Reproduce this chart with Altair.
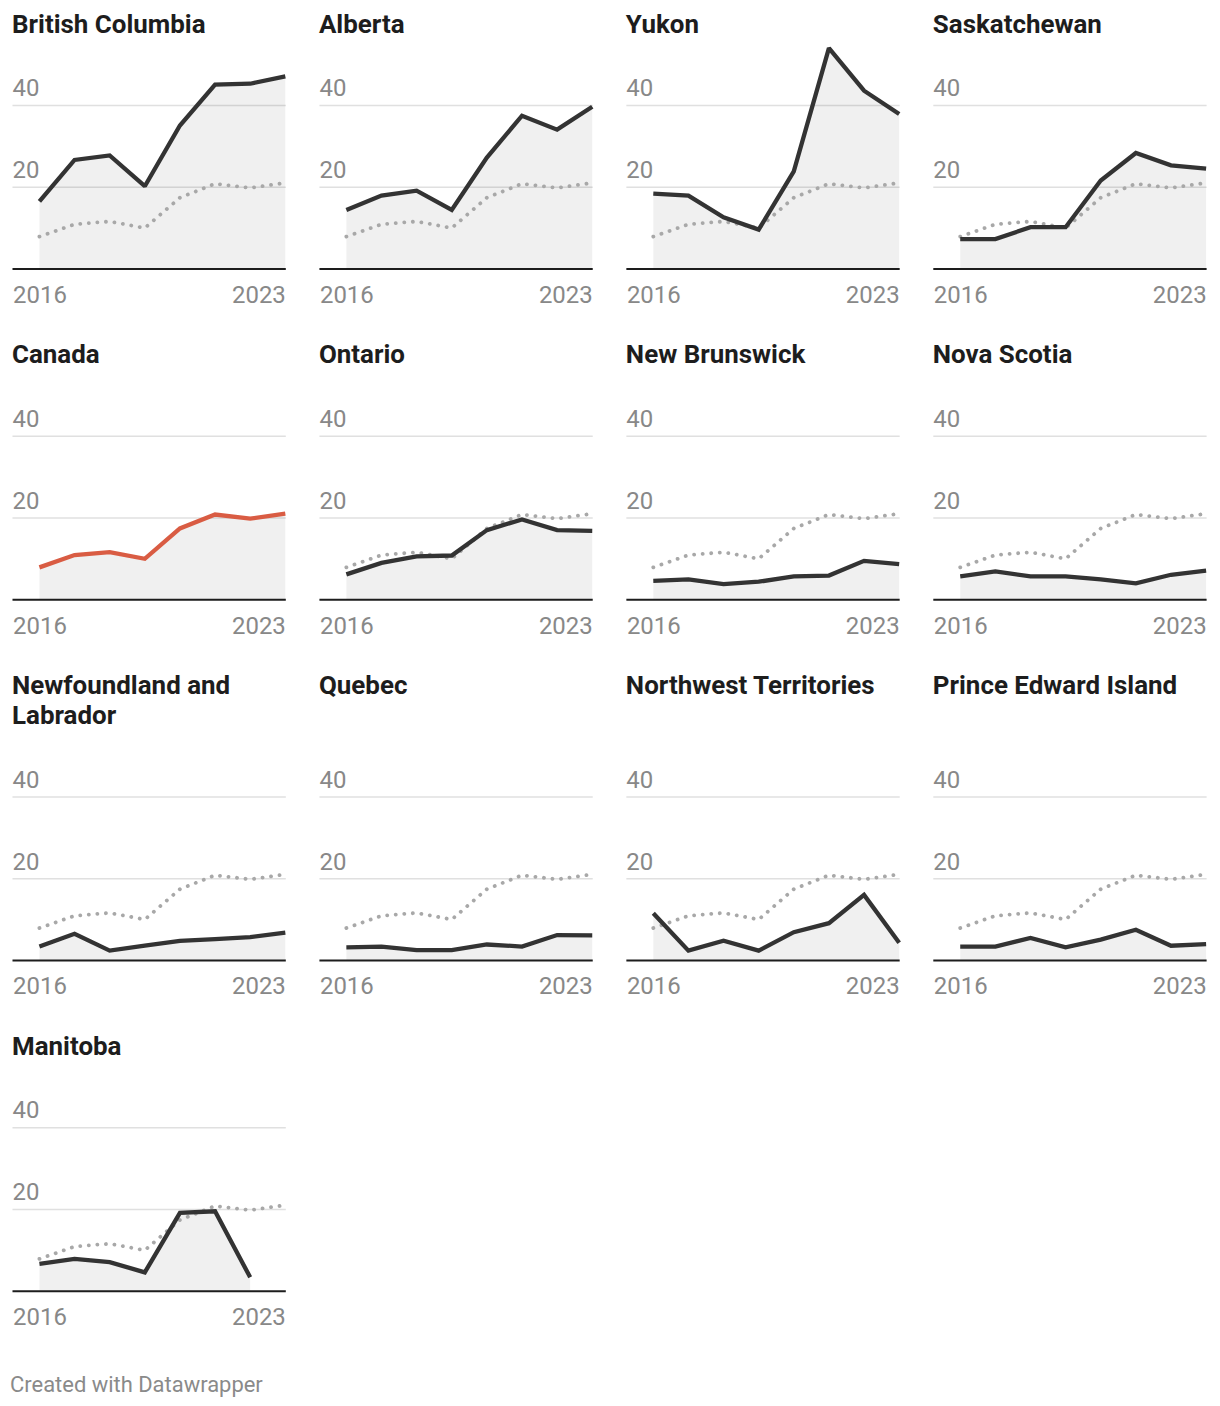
import altair as alt
import pandas as pd

years = [2016, 2017, 2018, 2019, 2020, 2021, 2022, 2023]
canada = [7.8, 10.8, 11.5, 9.9, 17.3, 20.7, 19.7, 20.9]
british_columbia = [16.4, 26.5, 27.6, 20.1, 34.9, 44.9, 45.1, 46.9]
alberta = [14.3, 17.8, 19.0, 14.3, 27.1, 37.3, 33.9, 39.5]
yukon = [18.3, 17.8, 12.5, 9.5, 23.7, 53.8, 43.4, 37.7]
saskatchewan = [7.2, 7.2, 10.1, 10.1, 21.5, 28.2, 25.2, 24.4]
ontario = [6.1, 8.9, 10.5, 10.7, 16.9, 19.5, 16.9, 16.7]
new_brunswick = [4.5, 4.9, 3.7, 4.3, 5.6, 5.8, 9.4, 8.6]
nova_scotia = [5.6, 6.8, 5.6, 5.6, 4.9, 3.9, 6.0, 7.0]
newfoundland_labrador = [3.3, 6.4, 2.3, 3.5, 4.7, 5.1, 5.6, 6.7]
quebec = [3.1, 3.3, 2.4, 2.4, 3.8, 3.3, 6.1, 6.0]
northwest_territories = [11.4, 2.3, 4.7, 2.3, 6.8, 9.0, 15.9, 4.2]
prince_edward_island = [3.3, 3.3, 5.4, 3.1, 5.0, 7.4, 3.5, 3.9]
manitoba = [6.6, 7.8, 7.0, 4.5, 19.0, 19.4, 3.3, None]

x_ticks = [2016, 2023]
y_ticks = [20, 40]

FONT = "Roboto"
W, H = 274, 226

x_scale = alt.Scale(domain=[2015.219, 2023], nice=False, zero=False)
y_scale = alt.Scale(domain=[0, 55], nice=False)

x_axis = alt.Axis(
    values=x_ticks, format="d", title=None, grid=False, ticks=False,
    domain=True, domainColor="#1d1d1d", domainWidth=2,
    labelFont=FONT, labelFontSize=24, labelColor="#888888",
    labelPadding=15, labelFlush=False,
    labelAlign=alt.condition("datum.value == 2023", alt.value("right"), alt.value("center")),
)
y_axis = alt.Axis(
    values=y_ticks, title=None, domain=False, ticks=False, grid=True,
    gridColor="#e0e0e0", gridWidth=1.5,
    labelFont=FONT, labelFontSize=24, labelColor="#888888",
    labelAlign="left", labelBaseline="alphabetic", labelPadding=0, labelOffset=-9,
)


def panel(title_lines, values, line_color="#333333", show_canada=True):
    df = pd.DataFrame({"year": years, "value": values}).dropna()
    cdf = pd.DataFrame({"year": years, "canada": canada})
    xe = alt.X("year:Q", scale=x_scale, axis=x_axis)
    area = alt.Chart(df).mark_area(color="#000000", opacity=0.06).encode(
        x=xe, y=alt.Y("value:Q", scale=y_scale, axis=y_axis)
    )
    layers = [area]
    if show_canada:
        dotted = alt.Chart(cdf).mark_line(
            color="#a8a8a8", strokeWidth=3.8, strokeDash=[0.1, 8.5],
            strokeCap="round", strokeJoin="round",
        ).encode(x=xe, y=alt.Y("canada:Q", scale=y_scale, axis=y_axis))
        layers.append(dotted)
    line = alt.Chart(df).mark_line(
        color=line_color, strokeWidth=4.3, strokeJoin="miter", strokeMiterLimit=1.5
    ).encode(x=xe, y=alt.Y("value:Q", scale=y_scale, axis=y_axis))
    layers.append(line)
    return alt.layer(*layers).properties(
        width=W, height=H,
        title=alt.TitleParams(
            text=title_lines, anchor="start", font=FONT, fontSize=26,
            fontWeight="bold", color="#1d1d1d",
            offset=5.5, lineHeight=30,
        ),
    )


def row(*panels):
    return alt.hconcat(*panels, spacing=33.7, bounds="flush")


row1 = row(
    panel(["British Columbia"], british_columbia),
    panel(["Alberta"], alberta),
    panel(["Yukon"], yukon),
    panel(["Saskatchewan"], saskatchewan),
)
row2 = row(
    panel(["Canada"], canada, line_color="#d95c43", show_canada=False),
    panel(["Ontario"], ontario),
    panel(["New Brunswick"], new_brunswick),
    panel(["Nova Scotia"], nova_scotia),
)
row3 = row(
    panel(["Newfoundland and", "Labrador"], newfoundland_labrador),
    panel(["Quebec", " "], quebec),
    panel(["Northwest Territories", " "], northwest_territories),
    panel(["Prince Edward Island", " "], prince_edward_island),
)
row4 = row(panel(["Manitoba"], manitoba))

chart = alt.vconcat(row1, row2, row3, row4, spacing=34.6).properties(
    padding={"left": 2, "top": 1.5, "right": 2, "bottom": 5},
    title=alt.TitleParams(
        text="Created with Datawrapper", orient="bottom", anchor="start",
        font=FONT, fontSize=22, fontWeight="normal", color="#8a8a8a",
        offset=45, dx=-2,
    ),
).configure_view(stroke=None)

chart.save("out.html", embed_options={"renderer": "svg", "actions": False})
